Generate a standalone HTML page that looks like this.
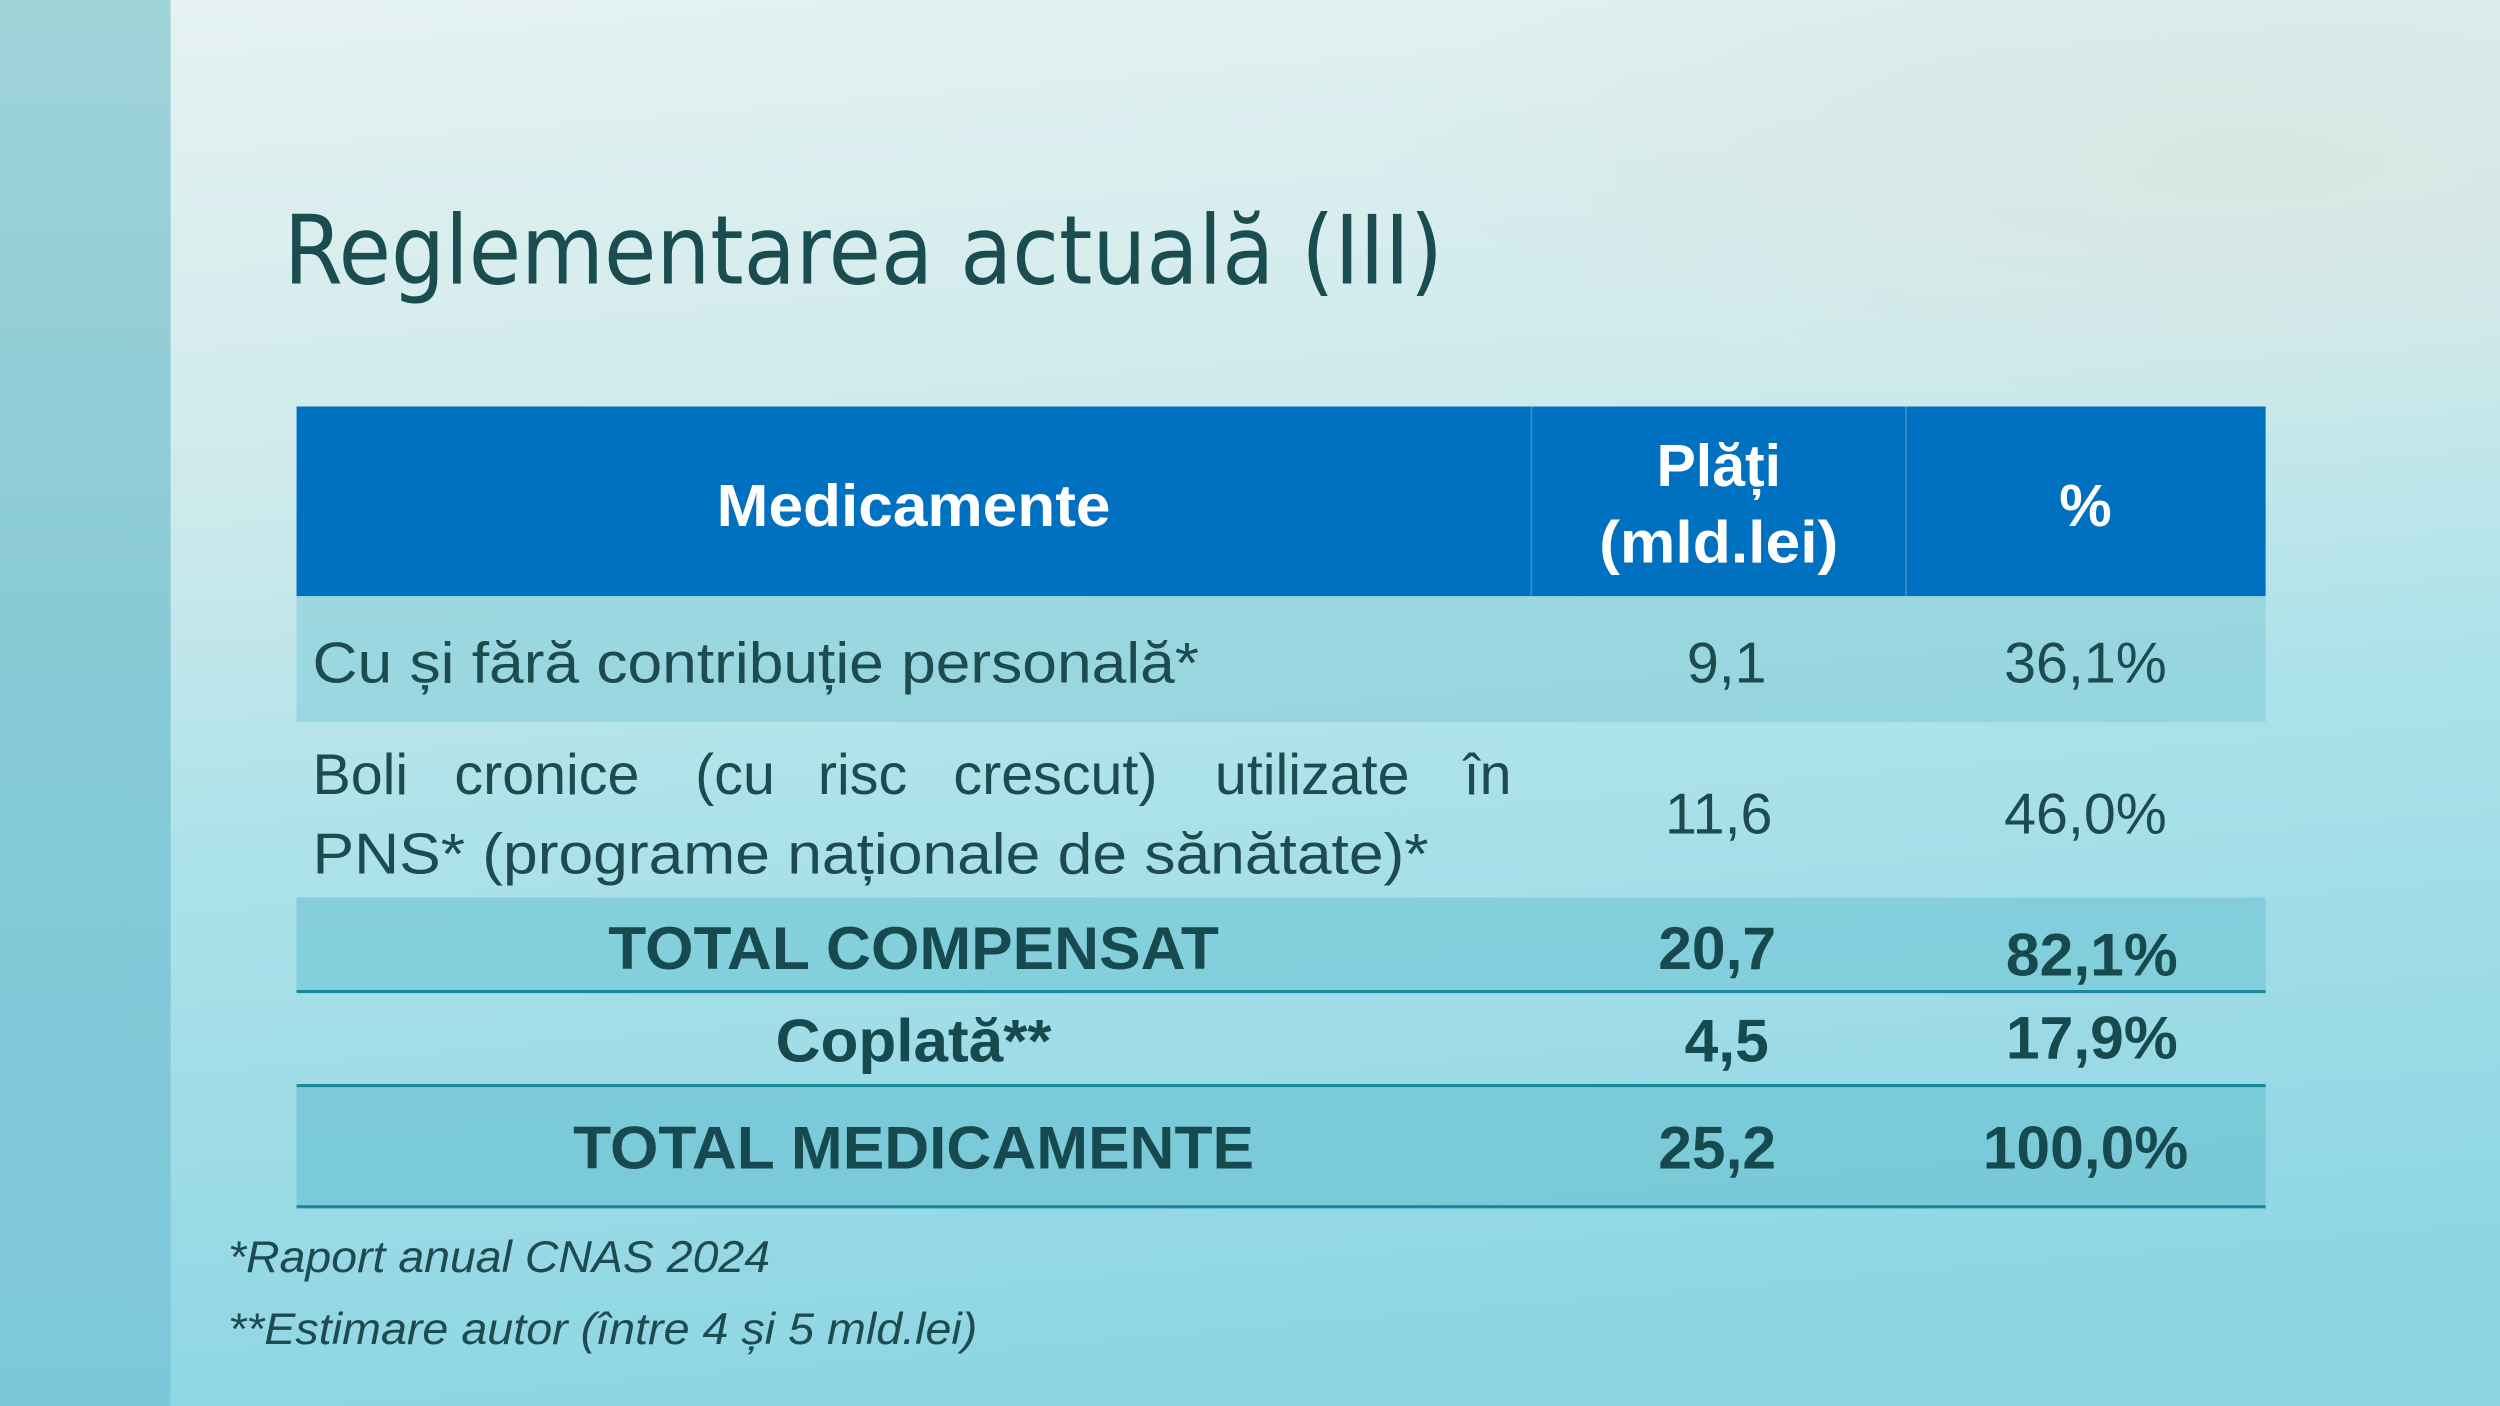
<!DOCTYPE html>
<html><head><meta charset="utf-8"><style>html,body{margin:0;padding:0;overflow:hidden}svg{display:block}</style></head>
<body>
<svg width="2500" height="1406" viewBox="0 0 1568 882" preserveAspectRatio="none" xmlns="http://www.w3.org/2000/svg">
<defs>
<linearGradient id="bg" x1="0" y1="0" x2="0.15" y2="1">
<stop offset="0" stop-color="#e6f2f1"/><stop offset="0.35" stop-color="#cfeaec"/><stop offset="0.6" stop-color="#ade2ea"/><stop offset="1" stop-color="#8fd6e4"/>
</linearGradient>
<linearGradient id="ls" x1="0" y1="0" x2="0" y2="1">
<stop offset="0" stop-color="#9fd3d8"/><stop offset="0.5" stop-color="#86c9d6"/><stop offset="1" stop-color="#7cc8da"/>
</linearGradient>
<radialGradient id="fog" cx="0.9" cy="0.2" r="0.35">
<stop offset="0" stop-color="#d8e6e2" stop-opacity="0.9"/><stop offset="1" stop-color="#d8e6e2" stop-opacity="0"/>
</radialGradient>
</defs>
<rect width="1568" height="882" fill="url(#bg)"/>
<rect width="1568" height="500" fill="url(#fog)"/>
<rect x="0" y="0" width="107" height="882" fill="url(#ls)"/>
<text x="178" y="178" font-family="DejaVu Sans Condensed, DejaVu Sans, sans-serif" font-size="60" fill="#1a4d50" textLength="727" lengthAdjust="spacingAndGlyphs">Reglementarea actuală (III)</text>

<rect x="186" y="255" width="1235" height="119" fill="#0070c0"/>
<line x1="960.5" y1="255" x2="960.5" y2="374" stroke="#3b8fd0" stroke-width="1"/>
<line x1="1195.5" y1="255" x2="1195.5" y2="374" stroke="#3b8fd0" stroke-width="1"/>
<rect x="186" y="374" width="1235" height="79" fill="#8fd2dc" opacity="0.75"/>
<rect x="186" y="563" width="1235" height="59" fill="#7ccbd8" opacity="0.8"/>
<rect x="186" y="681" width="1235" height="76" fill="#76c7d6" opacity="0.85"/>
<g stroke="#1a8a9c" stroke-width="2">
<line x1="186" y1="622" x2="1421" y2="622"/><line x1="186" y1="681" x2="1421" y2="681"/><line x1="186" y1="757" x2="1421" y2="757"/>
</g>

<g font-family="Liberation Sans, Arial, sans-serif" font-weight="bold" fill="#fff" font-size="37" text-anchor="middle">
<text x="573" y="330" textLength="247" lengthAdjust="spacingAndGlyphs">Medicamente</text>
<text x="1078" y="305">Plăți</text>
<text x="1078" y="353" textLength="150" lengthAdjust="spacingAndGlyphs">(mld.lei)</text>
<text x="1308" y="330">%</text>
</g>
<g font-family="Liberation Sans, Arial, sans-serif" fill="#1d4b50" font-size="36">
<text x="196" y="428" textLength="556" lengthAdjust="spacingAndGlyphs">Cu și fără contribuție personală*</text>
<text x="1083" y="428" text-anchor="middle">9,1</text>
<text x="1308" y="428" text-anchor="middle">36,1%</text>
<text x="196" y="498">Boli</text>
<text x="285" y="498">cronice</text>
<text x="436" y="498">(cu</text>
<text x="513" y="498">risc</text>
<text x="598" y="498">crescut)</text>
<text x="762" y="498">utilizate</text>
<text x="918" y="498">în</text>
<text x="196" y="548" textLength="700" lengthAdjust="spacingAndGlyphs">PNS* (programe naționale de sănătate)*</text>
<text x="1078" y="523" text-anchor="middle">11,6</text>
<text x="1308" y="523" text-anchor="middle">46,0%</text>
</g>
<g font-family="Liberation Sans, Arial, sans-serif" font-weight="bold" fill="#174a4f" font-size="38" text-anchor="middle">
<text x="573" y="608" textLength="383" lengthAdjust="spacingAndGlyphs">TOTAL COMPENSAT</text>
<text x="1077" y="608">20,7</text>
<text x="1312" y="612">82,1%</text>
<text x="573" y="666" textLength="173" lengthAdjust="spacingAndGlyphs">Coplată**</text>
<text x="1083" y="666">4,5</text>
<text x="1312" y="664">17,9%</text>
<text x="573" y="733" textLength="427" lengthAdjust="spacingAndGlyphs">TOTAL MEDICAMENTE</text>
<text x="1077" y="733">25,2</text>
<text x="1308" y="733">100,0%</text>
</g>
<g font-family="Liberation Sans, Arial, sans-serif" font-style="italic" fill="#1d4b50" font-size="28">
<text x="143" y="798" textLength="340" lengthAdjust="spacingAndGlyphs">*Raport anual CNAS 2024</text>
<text x="143" y="843" textLength="470" lengthAdjust="spacingAndGlyphs">**Estimare autor (între 4 și 5 mld.lei)</text>
</g>
</svg>
</body></html>
